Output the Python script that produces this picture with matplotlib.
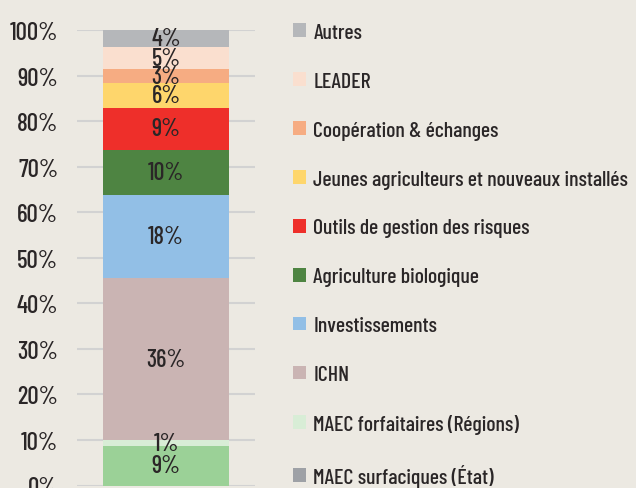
import matplotlib
matplotlib.use("Agg")
import matplotlib.pyplot as plt
from matplotlib.patches import Patch

# police condensée proche de l'original, avec repli
plt.rcParams["font.family"] = ["Barlow Condensed", "Roboto Condensed", "DejaVu Sans"]
plt.rcParams["font.weight"] = 500

# catégories, du bas de la pile vers le haut
categories = [
    "MAEC surfaciques (État)",
    "MAEC forfaitaires (Régions)",
    "ICHN",
    "Investissements",
    "Agriculture biologique",
    "Outils de gestion des risques",
    "Jeunes agriculteurs et nouveaux installés",
    "Coopération & échanges",
    "LEADER",
    "Autres",
]
shares = [8.6, 1.3, 35.6, 18.3, 9.9, 9.2, 5.5, 3.0, 4.9, 3.7]
bar_colors = ["#9BD197", "#D8EDD6", "#CAB4B3", "#92BFE6", "#4E8442",
              "#EE2F2A", "#FED66C", "#F6AC82", "#FADFCF", "#B5B7BA"]
# dans l'original, la pastille de légende de la première catégorie est grise
legend_colors = ["#9EA1A6"] + bar_colors[1:]
y_ticks = list(range(0, 101, 10))

BG = "#ECE9E2"
TXT = "#2A2627"

fig = plt.figure(figsize=(6.36, 4.89), dpi=100, facecolor=BG)
ax = fig.add_axes([77 / 636, 2.5 / 489, 178 / 636, 455.5 / 489])
ax.set_facecolor(BG)

bottom = 0
for cat, val, col in zip(categories, shares, bar_colors):
    ax.bar(0, val, width=0.708, bottom=bottom, color=col, zorder=2)
    ax.text(0, bottom + val / 2, f"{val:.0f}%", ha="center", va="center",
            fontsize=17.5, color=TXT, zorder=3)
    bottom += val

ax.set_xlim(-0.5, 0.5)
ax.set_ylim(0, 100)
ax.set_xticks([])
ax.set_yticks(y_ticks)
ax.set_yticklabels([f"{t}%" for t in y_ticks], fontsize=18, color=TXT)
ax.tick_params(axis="y", length=0, pad=13.5)
ax.yaxis.grid(True, color="#D2D2D2", linewidth=1.5, zorder=0)
ax.set_axisbelow(True)
for s in ax.spines.values():
    s.set_visible(False)

handles = [Patch(facecolor=c, edgecolor="none") for c in legend_colors]
fig.legend(handles[::-1], categories[::-1], loc="upper left",
           bbox_to_anchor=(293 / 636, 1 - 24 / 489), frameon=False,
           fontsize=15.7, labelcolor=TXT, borderpad=0, borderaxespad=0,
           handlelength=0.6, handleheight=0.6, handletextpad=0.33,
           labelspacing=1.37)

fig.savefig("out.png", dpi=100, facecolor=BG)
